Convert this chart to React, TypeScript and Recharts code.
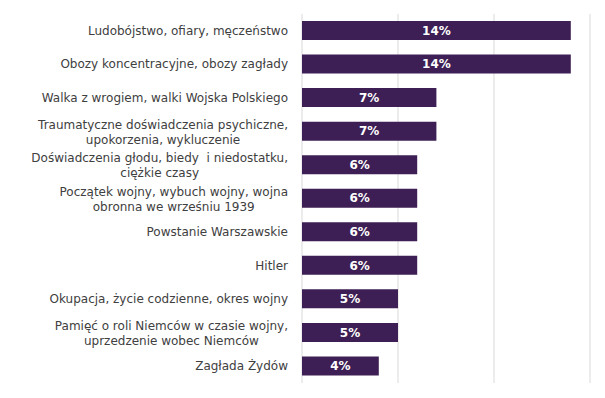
import React from 'react';
import { BarChart, Bar, XAxis, YAxis, CartesianGrid, LabelList } from 'recharts';

const categories = [
  'Ludobójstwo, ofiary, męczeństwo',
  'Obozy koncentracyjne, obozy zagłady',
  'Walka z wrogiem, walki Wojska Polskiego',
  'Traumatyczne doświadczenia psychiczne,\nupokorzenia, wykluczenie',
  'Doświadczenia głodu, biedy  i niedostatku,\nciężkie czasy',
  'Początek wojny, wybuch wojny, wojna\nobronna we wrześniu 1939',
  'Powstanie Warszawskie',
  'Hitler',
  'Okupacja, życie codzienne, okres wojny',
  'Pamięć o roli Niemców w czasie wojny,\nuprzedzenie wobec Niemców',
  'Zagłada Żydów',
];
const values = [14, 14, 7, 7, 6, 6, 6, 6, 5, 5, 4];
const xTicks = [0, 5, 10, 15];

const data = categories.map((name, i) => ({ name, value: values[i] }));

const FONT = '"DejaVu Sans", sans-serif';
const FONT_SIZE = 12;

let ctx: CanvasRenderingContext2D | null = null;
function measure(t: string): number {
  if (!ctx) {
    const c = document.createElement('canvas');
    ctx = c.getContext('2d');
  }
  if (!ctx) return t.length * 6.5;
  ctx.font = `${FONT_SIZE}px ${FONT}`;
  return ctx.measureText(t).width;
}

const CategoryTick = (props: any) => {
  const { x, y, payload } = props;
  const lines: string[] = String(payload.value).split('\n');
  const right = x - 6;
  if (lines.length === 1) {
    return (
      <text x={right} y={y} textAnchor="end" dominantBaseline="central" fontFamily={FONT} fontSize={FONT_SIZE} fill="#404040" style={{ whiteSpace: 'pre' }}>
        {lines[0]}
      </text>
    );
  }
  const maxW = Math.max(...lines.map(measure));
  const cx = right - maxW / 2;
  const lh = 15;
  const start = y - ((lines.length - 1) * lh) / 2 + 1;
  return (
    <g>
      {lines.map((l, i) => (
        <text key={i} x={cx} y={start + i * lh} textAnchor="middle" dominantBaseline="central" fontFamily={FONT} fontSize={FONT_SIZE} fill="#404040" style={{ whiteSpace: 'pre' }}>
          {l}
        </text>
      ))}
    </g>
  );
};

export default function App() {
  return (
    <div style={{ position: 'absolute', left: 0, top: 0, width: 605, height: 398, background: '#fff' }}>
      <BarChart
        width={605}
        height={398}
        data={data}
        layout="vertical"
        margin={{ top: 14, right: 15, bottom: 15, left: 0 }}
        barSize={19}
      >
        <CartesianGrid horizontal={false} vertical={true} stroke="#d9d9d9" />
        <XAxis
          type="number"
          domain={[0, 15]}
          ticks={xTicks}
          tick={{ fill: 'transparent', fontSize: 1 }}
          axisLine={false}
          tickLine={false}
          height={0}
        />
        <YAxis
          type="category"
          dataKey="name"
          width={302}
          axisLine={false}
          tickLine={false}
          interval={0}
          tick={<CategoryTick />}
        />
        <Bar dataKey="value" fill="#3E1F55" isAnimationActive={false}>
          <LabelList
            dataKey="value"
            position="center"
            formatter={(v: any) => `${v}%`}
            fill="#ffffff"
            fontFamily={FONT}
            fontWeight="bold"
            fontSize={12}
          />
        </Bar>
      </BarChart>
    </div>
  );
}
